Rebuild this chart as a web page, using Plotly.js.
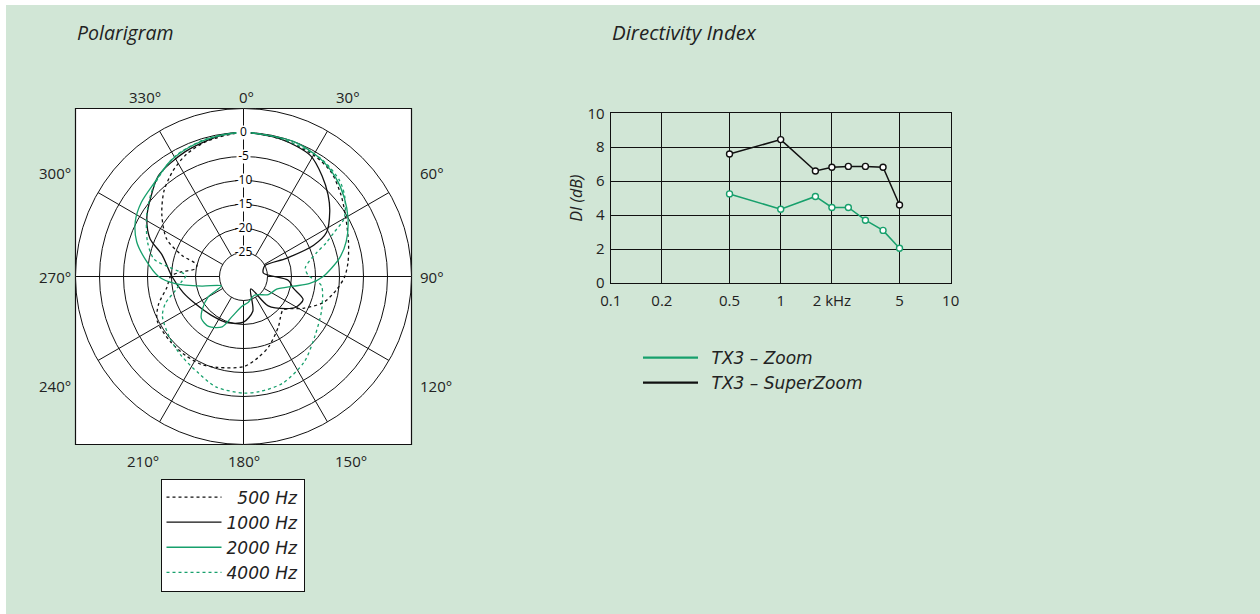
<!DOCTYPE html>
<html><head><meta charset="utf-8">
<script src="https://cdn.plot.ly/plotly-3.0.1.min.js"></script>
<style>html,body{margin:0;padding:0;background:#fff;} #chart{width:1260px;height:614px;}</style>
</head><body><div id="chart"></div>
<script>
// ---------- Directivity Index data ----------
const diFreqs = [0.5, 1, 1.6, 2, 2.5, 3.15, 4, 5];
const diZoom = [5.25, 4.35, 5.1, 4.45, 4.45, 3.7, 3.1, 2.05];
const diSuperZoom = [7.6, 8.45, 6.6, 6.82, 6.87, 6.87, 6.82, 4.6];
const diTickVals = [0.1, 0.2, 0.5, 1, 2, 5, 10];
const diTickText = ['0.1', '0.2', '0.5', '1', '2 kHz', '5', '10'];
const diYTicks = [0, 2, 4, 6, 8, 10];

// ---------- Polar pattern data (angle in degrees, level in dB) ----------
const theta500 = [0, 15, 30, 40, 50, 60, 72, 82, 90, 98, 108, 118, 130, 138, 145, 160, 170, 180, 196, 205, 216, 228, 243, 252, 262, 270, 274, 279, 284, 289, 296, 307, 317, 326, 335, 345, 360];
const db500 = [0, -0.3, -0.8, -1.6, -3.5, -5.4, -7.0, -8.0, -8.9, -10.4, -12.5, -15.9, -19.2, -18.5, -17.3, -14.5, -12.8, -11.2, -10.3, -9.7, -9.6, -9.6, -9.8, -11.4, -13.9, -14.8, -16.8, -19.8, -20, -16.4, -12.2, -8.7, -5.7, -3.6, -1.9, -0.8, 0];

const theta1000 = [0, 15, 29, 38, 46, 53, 62, 66, 67, 63, 80, 95, 103, 111, 120, 127, 140, 150, 165, 180, 200, 220, 240, 255, 270, 285, 292, 301, 310, 320, 335, 350, 360];
const db1000 = [0, -0.3, -1.2, -3.4, -5.5, -7.5, -10.4, -14, -20.3, -25, -25.8, -20.6, -19.4, -16.7, -17.3, -18.9, -22, -27, -22.5, -20.5, -19.8, -19.5, -18.5, -17, -15.1, -12.4, -9.0, -6.5, -4.7, -2.5, -1.3, -0.3, 0];

const theta2000 = [0, 20, 33, 43, 52, 61, 71, 79, 90, 96, 101, 111, 126, 150, 170, 183, 196, 203, 215, 225, 231, 240, 247, 257, 264, 270, 280, 288, 297, 306, 317, 327, 337, 348, 360];
const db2000 = [0, 0, -0.7, -1.85, -3.35, -5.1, -7.35, -9.6, -13.4, -16.1, -19.4, -22.6, -23.6, -25.5, -24.5, -23.8, -21.3, -18.6, -17.3, -17.6, -18.9, -21.5, -25, -21.1, -15.7, -12.3, -9.2, -6.6, -4.7, -3.7, -3.0, -1.6, -0.8, -0.3, 0];

const theta4000 = [0, 15, 33, 45, 52, 60, 64, 68, 72, 82, 89, 93, 97, 113, 130, 145, 160, 172, 180, 194, 205, 218, 230, 244, 251, 258, 265, 271, 277, 281, 290, 303, 315, 330, 345, 360];
const db4000 = [0, -0.2, -0.6, -1.7, -3.2, -5.8, -9, -11.5, -14, -17, -16.5, -15, -13.6, -12.3, -10.6, -8.1, -6.3, -5.8, -5.7, -6.3, -7.8, -9.0, -10.0, -11.2, -12.8, -15.4, -17, -18, -14.5, -11, -8.7, -6.0, -3.5, -1.2, -0.3, 0];

const polarRingVals = [-25, -20, -15, -10, -5, 0];
const polarRingText = ['-25', '-20', '-15', '-10', '-5', '0'];
const spokeAngles = [0, 30, 60, 90, 120, 150, 180, 210, 240, 270, 300, 330];
const angleLabels = ['0°', '30°', '60°', '90°', '120°', '150°', '180°', '210°', '240°', '270°', '300°', '330°'];

// ---------- styling ----------
const W = 1260, H = 614;
const GREEN = '#17a06c';
const BLACK = '#111111';
const FONT = 'Open Sans, Noto Sans, sans-serif';
const LFONT = 'DejaVu Sans, Open Sans, sans-serif';
const TXT = '#222222';
const px = x => x / W;
const py = y => 1 - y / H;

// spokes (grid) from the -25 dB ring to the outer edge
const spokeR = [], spokeT = [];
spokeAngles.forEach(a => { spokeR.push(-25, 5, null); spokeT.push(a, a, null); });

const polarCurve = (th, r, name, color, dash) => ({
  type: 'scatterpolar', mode: 'lines', theta: th, r: r, name: name,
  subplot: 'polar', legend: 'legend',
  line: {color: color, width: 1.3, dash: dash, shape: 'spline', smoothing: 0.8},
  hoverinfo: 'skip'
});

const traces = [
  {type: 'scatterpolar', mode: 'lines', r: spokeR, theta: spokeT, subplot: 'polar',
   line: {color: BLACK, width: 1}, showlegend: false, hoverinfo: 'skip', connectgaps: false},
  polarCurve(theta500, db500, '\u2007500 Hz', BLACK, '3px,3px'),
  polarCurve(theta1000, db1000, '1000 Hz', BLACK, 'solid'),
  polarCurve(theta2000, db2000, '2000 Hz', GREEN, 'solid'),
  polarCurve(theta4000, db4000, '4000 Hz', GREEN, '3px,3px'),
  {type: 'scatterpolar', mode: 'markers+text', r: polarRingVals, theta: polarRingVals.map(() => 0),
   text: polarRingText, subplot: 'polar', showlegend: false, hoverinfo: 'skip', cliponaxis: false,
   marker: {symbol: 'square', size: 14, color: '#ffffff', line: {width: 0}},
   textposition: 'middle center',
   textfont: {family: FONT, size: 12, color: '#000000'}},
  // Directivity index
  {type: 'scatter', mode: 'lines+markers', x: diFreqs, y: diZoom, xaxis: 'x', yaxis: 'y',
   line: {color: GREEN, width: 1.5}, marker: {symbol: 'circle', size: 6, color: '#ffffff', line: {width: 1.4, color: GREEN}},
   showlegend: false, hoverinfo: 'x+y'},
  {type: 'scatter', mode: 'lines+markers', x: diFreqs, y: diSuperZoom, xaxis: 'x', yaxis: 'y',
   line: {color: BLACK, width: 1.5}, marker: {symbol: 'circle', size: 6, color: '#ffffff', line: {width: 1.4, color: BLACK}},
   showlegend: false, hoverinfo: 'x+y'},
  {type: 'scatter', mode: 'lines', x: [null], y: [null], name: '\u2002TX3 – Zoom', legend: 'legend2',
   line: {color: GREEN, width: 2.2}},
  {type: 'scatter', mode: 'lines', x: [null], y: [null], name: '\u2002TX3 – SuperZoom', legend: 'legend2',
   line: {color: BLACK, width: 2.2}}
];

// angular labels placed around the frame of the polar plot
const labelPos = {
  '0°': [246, 97], '30°': [348, 97], '60°': [432, 173], '90°': [432, 277],
  '120°': [436, 386], '150°': [351, 461], '180°': [244, 461], '210°': [143, 461],
  '240°': [55, 386], '270°': [55, 277], '300°': [55, 173], '330°': [145, 97]
};
const annotations = angleLabels.map(t => ({
  text: t, xref: 'paper', yref: 'paper', x: px(labelPos[t][0]), y: py(labelPos[t][1]),
  xanchor: 'center', yanchor: 'middle', showarrow: false,
  font: {family: FONT, size: 15, color: TXT}
}));
annotations.push(
  {text: 'Polarigram', xref: 'paper', yref: 'paper', x: px(75), y: py(32), xanchor: 'left', yanchor: 'middle',
   showarrow: false, font: {family: FONT, size: 19.5, color: TXT, style: 'italic'}},
  {text: 'Directivity Index', xref: 'paper', yref: 'paper', x: px(610), y: py(32), xanchor: 'left', yanchor: 'middle',
   showarrow: false, font: {family: FONT, size: 20.5, color: TXT, style: 'italic'}}
);

const layout = {
  width: W, height: H, autosize: false,
  margin: {l: 0, r: 0, t: 0, b: 0, pad: 0},
  paper_bgcolor: '#ffffff', plot_bgcolor: '#ffffff',
  font: {family: FONT, color: TXT},
  shapes: [
    {type: 'rect', xref: 'paper', yref: 'paper', x0: px(6), x1: 1, y0: 0, y1: py(5),
     fillcolor: '#d1e6d6', line: {width: 0}, layer: 'below'},
    {type: 'rect', xref: 'paper', yref: 'paper', x0: px(75.5), x1: px(411.5), y0: py(444.5), y1: py(108.5),
     fillcolor: '#ffffff', line: {color: BLACK, width: 1.2}, layer: 'below'}
  ],
  polar: {
    domain: {x: [px(75.5), px(411.5)], y: [py(444.5), py(108.5)]},
    bgcolor: '#ffffff',
    radialaxis: {range: [-30, 5], tickvals: polarRingVals, showticklabels: false, ticks: '',
      showline: false, gridcolor: BLACK, gridwidth: 1},
    angularaxis: {rotation: 90, direction: 'clockwise', showgrid: false, showticklabels: false,
      ticks: '', showline: true, linecolor: BLACK, linewidth: 1}
  },
  xaxis: {domain: [px(610.7), px(950.7)], anchor: 'y', type: 'log', range: [-1, 1],
    tickvals: diTickVals, ticktext: diTickText, showgrid: true, gridcolor: BLACK, gridwidth: 1,
    showline: true, mirror: true, linecolor: BLACK, linewidth: 1, zeroline: false, ticks: '',
    tickfont: {family: FONT, size: 15, color: TXT}, ticklabelstandoff: 4},
  yaxis: {domain: [py(283), py(113.3)], anchor: 'x', range: [0, 10], tickvals: diYTicks,
    showgrid: true, gridcolor: BLACK, gridwidth: 1, showline: true, mirror: true, linecolor: BLACK,
    linewidth: 1, zeroline: false, ticks: '', tickfont: {family: FONT, size: 15, color: TXT},
    ticklabelstandoff: 2,
    title: {text: 'DI (dB)', standoff: 0, font: {family: FONT, size: 16, color: TXT, style: 'italic'}}},
  legend: {x: px(160.5), y: py(478.5), xanchor: 'left', yanchor: 'top', bgcolor: '#ffffff',
    bordercolor: BLACK, borderwidth: 1, font: {family: LFONT, size: 17, color: TXT, style: 'italic'},
    itemwidth: 55, tracegroupgap: 0},
  legend2: {x: px(638), y: py(340), xanchor: 'left', yanchor: 'top', bgcolor: 'rgba(0,0,0,0)',
    borderwidth: 0, font: {family: LFONT, size: 17, color: TXT, style: 'italic'}, itemwidth: 55},
  annotations: annotations,
  showlegend: true
};

Plotly.newPlot('chart', traces, layout, {displayModeBar: false, staticPlot: true});
</script>
</body></html>
